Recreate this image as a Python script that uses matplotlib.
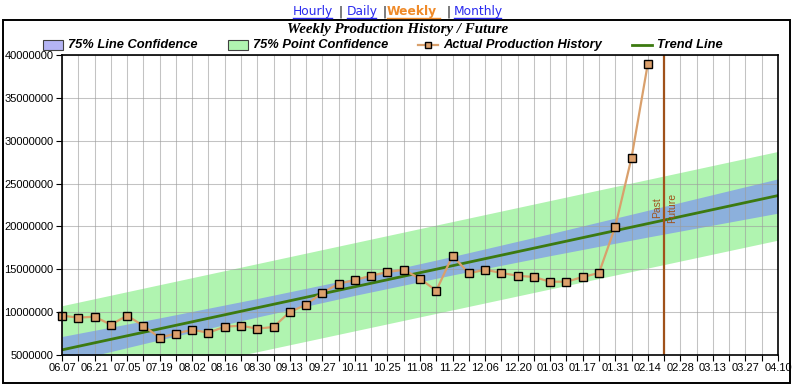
import matplotlib.pyplot as plt
import matplotlib.ticker as ticker
from matplotlib.patches import Rectangle
from matplotlib.lines import Line2D

# Data (weeks counted from 06.07)
week_labels = ["06.07", "06.21", "07.05", "07.19", "08.02", "08.16", "08.30",
               "09.13", "09.27", "10.11", "10.25", "11.08", "11.22", "12.06",
               "12.20", "01.03", "01.17", "01.31", "02.14", "02.28", "03.13",
               "03.27", "04.10"]
production = [9.59, 9.36, 9.47, 8.54, 9.59, 8.42, 7.02, 7.49, 7.95, 7.60, 8.30,
              8.42, 8.07, 8.27, 10.02, 10.87, 12.27, 13.32, 13.74, 14.25, 14.68,
              14.95, 13.90, 12.50, 16.59, 14.53, 14.95, 14.57, 14.25, 14.10,
              13.55, 13.55, 14.10, 14.57, 19.97, 28.02, 38.99]
production = [v * 1e6 for v in production]
weeks = list(range(len(production)))

trend_weeks = [0, 44]
trend_vals = [5.6e6, 23.6e6]

point_weeks = [0, 44]
point_lo = [0.5e6, 18.4e6]
point_hi = [10.75e6, 28.75e6]

line_weeks = [0, 6, 12, 18, 24, 30, 36, 44]
line_lo = [4.04e6, 6.77e6, 9.43e6, 11.96e6, 14.34e6, 16.59e6, 18.76e6, 21.55e6]
line_hi = [7.16e6, 9.33e6, 11.59e6, 13.96e6, 16.50e6, 19.15e6, 21.88e6, 25.55e6]

split_week = 37

fig = plt.figure(figsize=(7.95, 3.87), dpi=100)
ax = fig.add_axes([62 / 795, 32 / 387, 716 / 795, 300 / 387])

green = "#b0f4b0"
blue = "#8cb0dc"
brown = "#a0521a"

ax.fill_between(point_weeks, point_lo, point_hi, color=green, lw=0, zorder=1)
ax.fill_between(line_weeks, line_lo, line_hi, color=blue, lw=0, zorder=2)

ax.set_xlim(0, 44)
ax.set_ylim(5e6, 40e6)
ax.xaxis.set_major_locator(ticker.FixedLocator(range(0, 45, 2)))
ax.xaxis.set_major_formatter(ticker.FixedFormatter(week_labels))
ax.xaxis.set_minor_locator(ticker.MultipleLocator(1))
ax.yaxis.set_major_locator(ticker.MultipleLocator(5e6))
ax.yaxis.set_major_formatter(ticker.FuncFormatter(lambda v, p: f"{int(round(v))}"))
ax.tick_params(which="both", direction="out", length=4, width=0.8, color="black",
               labelsize=8, pad=2)
for lab in ax.get_xticklabels() + ax.get_yticklabels():
    lab.set_family("Liberation Sans")

grid_kw = dict(color="#9c9c9c", alpha=0.6, lw=0.75, zorder=3)
ax.grid(which="both", axis="x", **grid_kw)
ax.grid(which="major", axis="y", **grid_kw)
ax.set_axisbelow(False)
for s in ax.spines.values():
    s.set_linewidth(1.2)
    s.set_zorder(6)

ax.plot(trend_weeks, trend_vals, color="#3c7a10", lw=2, zorder=4)
ax.axvline(split_week, color=brown, lw=1.6, zorder=4)
ax.plot(weeks, production, color="#d9a06c", lw=1.6, marker="s", ms=5.5,
        mfc="#dca06c", mec="black", mew=1, zorder=5, clip_on=False)

ax.text(split_week - 0.1, 22.2e6, "Past", rotation=90, ha="right", va="center",
        color=brown, fontsize=7.5, family="Liberation Sans", zorder=6)
ax.text(split_week + 0.2, 22.2e6, "Future", rotation=90, ha="left", va="center",
        color=brown, fontsize=7.5, family="Liberation Sans", zorder=6)

# outer frame
fig.patches.append(Rectangle((3 / 795, 4 / 387), 787 / 795, 363 / 387,
                             transform=fig.transFigure, fill=False,
                             edgecolor="black", lw=1.4))

# title
fig.text(398 / 795, 1 - 30 / 387, "Weekly Production History / Future",
         ha="center", va="center", fontsize=10.8, fontweight="bold",
         fontstyle="italic", family="Liberation Serif")

# legend
ly = 1 - 45 / 387
lfont = dict(fontsize=9.3, fontweight="bold", fontstyle="italic",
             family="Liberation Sans", va="center", ha="left")
def swatch(x, color):
    fig.patches.append(Rectangle((x / 795, ly - 5 / 387), 20 / 795, 10 / 387,
                                 transform=fig.transFigure, facecolor=color,
                                 edgecolor="#404040", lw=0.8))
swatch(43, "#b4b4f4")
fig.text(68 / 795, ly, "75% Line Confidence", **lfont)
swatch(228, "#b0f4b0")
fig.text(253 / 795, ly, "75% Point Confidence", **lfont)
fig.lines.append(Line2D([418 / 795, 438 / 795], [ly, ly], transform=fig.transFigure,
                        color="#d9a06c", lw=1.6))
fig.lines.append(Line2D([428 / 795], [ly], transform=fig.transFigure,
                        marker="s", ms=5, mfc="#dca06c", mec="black", mew=1))
fig.text(443 / 795, ly, "Actual Production History", **lfont)
fig.lines.append(Line2D([632 / 795, 652 / 795], [ly, ly], transform=fig.transFigure,
                        color="#3c7a10", lw=2))
fig.text(657 / 795, ly, "Trend Line", **lfont)

# period links (text, left px, right px, colour, weight)
links = [("Hourly", 293, 332, "#2a2af0", "normal"),
         ("|", 339, None, "black", "normal"),
         ("Daily", 347, 376, "#2a2af0", "normal"),
         ("|", 382, None, "black", "normal"),
         ("Weekly", 387, 440, "#f08a28", "bold"),
         ("|", 446, None, "black", "normal"),
         ("Monthly", 454, 501, "#2a2af0", "normal")]
for txt, x0, x1, col, wt in links:
    fig.text(x0 / 795, 1 - 12 / 387, txt, ha="left", va="center", fontsize=8.8,
             color=col, fontweight=wt, family="DejaVu Sans")
    if x1 is not None:
        fig.lines.append(Line2D([x0 / 795, x1 / 795], [1 - 18 / 387, 1 - 18 / 387],
                                transform=fig.transFigure, color=col, lw=1))

fig.savefig("out.png", dpi=100)
